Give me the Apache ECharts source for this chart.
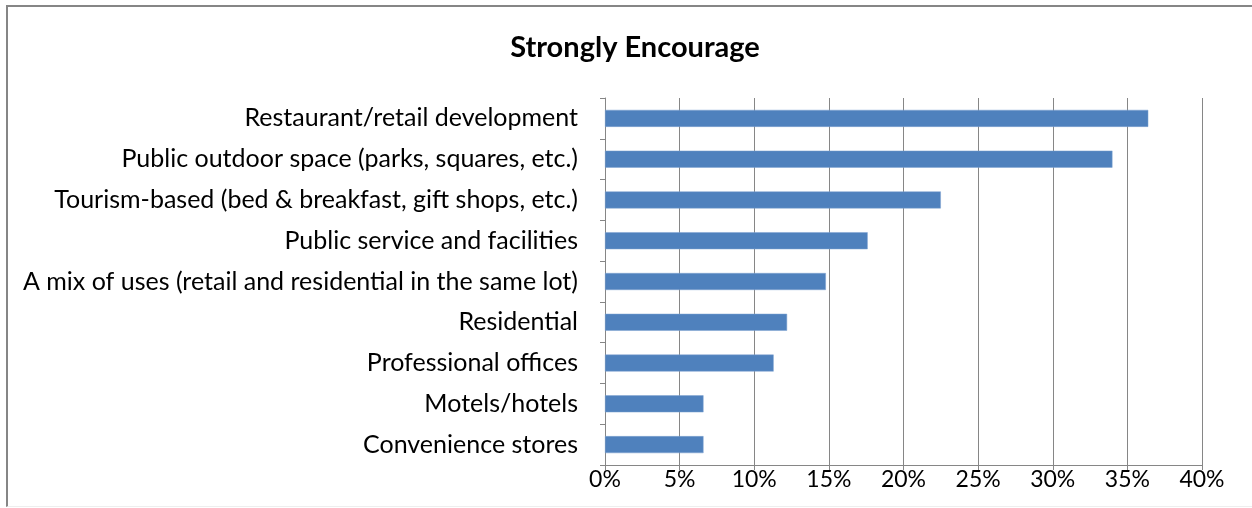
<!DOCTYPE html>
<html>
<head>
<meta charset="utf-8">
<script src="https://cdn.jsdelivr.net/npm/echarts@6/dist/echarts.min.js"></script>
<style>
  html, body { margin: 0; padding: 0; background: #fff; }
  #frame { position: absolute; left: 6px; top: 5px; width: 1246px; height: 502px; border-left: 2px solid #868686; border-top: 2px solid #868686; border-bottom: 1px solid #eeeeee; box-sizing: border-box; }
  #main { position: absolute; left: 0; top: 0; width: 1252px; height: 508px; }
</style>
</head>
<body>
<div id="frame"></div>
<div id="main"></div>
<script>
// categories listed bottom to top (ECharts category y axis starts at the bottom)
const categories = [
  'Convenience stores',
  'Motels/hotels',
  'Professional offices',
  'Residential',
  'A mix of uses (retail and residential in the same lot)',
  'Public service and facilities',
  'Tourism-based (bed & breakfast, gift shops, etc.)',
  'Public outdoor space (parks, squares, etc.)',
  'Restaurant/retail development'
];
const shares = [6.6, 6.6, 11.3, 12.2, 14.8, 17.6, 22.5, 34.0, 36.4];
const xTicks = [0, 5, 10, 15, 20, 25, 30, 35, 40];

const chart = echarts.init(document.getElementById('main'));
const fontFam = 'Lato, "Open Sans", sans-serif';

chart.setOption({
  animation: false,
  textStyle: { fontFamily: fontFam },
  title: {
    text: 'Strongly Encourage',
    left: 630,
    textAlign: 'center',
    top: 28,
    textStyle: { fontSize: 29, fontWeight: 'bold', color: '#000', fontFamily: fontFam }
  },
  grid: { left: 605, right: 50, top: 98, bottom: 43, containLabel: false },
  xAxis: {
    type: 'value',
    min: xTicks[0],
    max: xTicks[xTicks.length - 1],
    interval: 5,
    axisLine: { show: true, lineStyle: { color: '#868686', width: 1 } },
    axisTick: { show: true, length: 5, lineStyle: { color: '#868686' } },
    axisLabel: { formatter: '{value}%', fontSize: 23, color: '#000', margin: 3, fontFamily: fontFam },
    splitLine: { show: true, lineStyle: { color: '#868686', width: 1 } }
  },
  yAxis: {
    type: 'category',
    data: categories,
    axisLine: { show: true, lineStyle: { color: '#868686', width: 1 } },
    axisTick: { show: true, length: 5, lineStyle: { color: '#868686' } },
    axisLabel: { fontSize: 25, color: '#000', margin: 27, fontFamily: fontFam }
  },
  series: [{
    type: 'bar',
    data: shares,
    barWidth: 17,
    itemStyle: { color: '#4F81BD', borderColor: '#7FA3D0', borderWidth: 0.5 }
  }]
});
</script>
</body>
</html>
